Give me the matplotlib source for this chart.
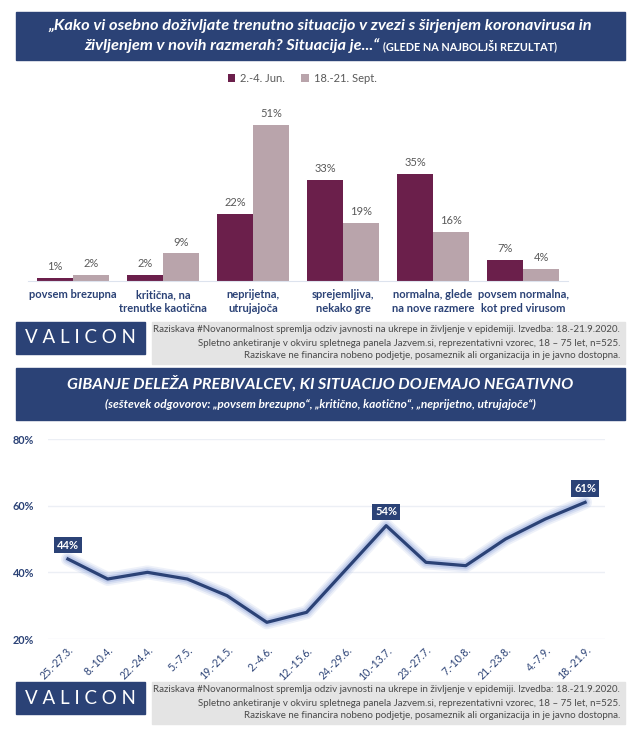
import numpy as np
import matplotlib.pyplot as plt
from matplotlib.patches import Rectangle

W, H = 641, 733
NAVY = '#2b4276'
DARK = '#6b1f4b'
LIGHT = '#b9a4ab'
GREY_TXT = '#595959'
FOOT_BG = '#e4e4e4'

plt.rcParams['font.family'] = ['Lato', 'DejaVu Sans']

# ---- data ----
categories = ['povsem brezupna', 'kritična, na\ntrenutke kaotična', 'neprijetna,\nutrujajoča',
              'sprejemljiva,\nnekako gre', 'normalna, glede\nna nove razmere',
              'povsem normalna,\nkot pred virusom']
jun = [1, 2, 22, 33, 35, 7]
sept = [2, 9, 51, 19, 16, 4]
series_names = ['2.-4. Jun.', '18.-21. Sept.']

dates = ['25.-27.3.', '8.-10.4.', '22.-24.4.', '5.-7.5.', '19.-21.5.', '2.-4.6.', '12.-15.6.',
         '24.-29.6.', '10.-13.7.', '23.-27.7.', '7.-10.8.', '21.-23.8.', '4.-7.9.', '18.-21.9.']
negative = [44, 38, 40, 38, 33, 25, 28, 41, 54, 43, 42, 50, 56, 61]
labelled = [0, 8, 13]

footer_lines = [
    'Raziskava #Novanormalnost spremlja odziv javnosti na ukrepe in življenje v epidemiji. Izvedba: 18.-21.9.2020.',
    'Spletno anketiranje v okviru spletnega panela Jazvem.si, reprezentativni vzorec, 18 – 75 let, n=525.',
    'Raziskave ne financira nobeno podjetje, posameznik ali organizacija in je javno dostopna.',
]

fig = plt.figure(figsize=(W / 100, H / 100), dpi=100)


def px_axes(x0, y0, x1, y1):
    # axes from pixel box (top-left origin)
    return fig.add_axes([x0 / W, 1 - y1 / H, (x1 - x0) / W, (y1 - y0) / H])


def fx(x):
    return x / W


def fy(y):
    return 1 - y / H


def box(x0, y0, x1, y1, color):
    fig.patches.append(Rectangle((fx(x0), fy(y1)), (x1 - x0) / W, (y1 - y0) / H,
                                 transform=fig.transFigure, color=color, zorder=0))


def footer(y0):
    box(16, y0, 145, y0 + 32, NAVY)
    fig.text(fx(80), fy(y0 + 16), 'V A L I C O N', color='white', fontsize=13.5,
             ha='center', va='center')
    box(152, y0, 625, y0 + 42, FOOT_BG)
    for i, line in enumerate(footer_lines):
        fig.text(fx(620), fy(y0 + 8 + i * 13), line, ha='right', va='center',
                 fontsize=7.0, color='#4a4a4a')


# ---- title 1 ----
box(16, 12, 625, 60, NAVY)
fig.text(0.5, fy(26), '„Kako vi osebno doživljate trenutno situacijo v zvezi s širjenjem koronavirusa in',
         ha='center', va='center', color='white', fontsize=11.8, fontweight='bold', style='italic')
t1 = fig.text(0, fy(46), 'življenjem v novih razmerah? Situacija je...“ ',
              ha='left', va='center', color='white', fontsize=11.8, fontweight='bold', style='italic')
t2 = fig.text(0, fy(46), '(GLEDE NA NAJBOLJŠI REZULTAT)',
              ha='left', va='center', color='white', fontsize=7.8, fontweight='bold')
fig.canvas.draw()
r = fig.canvas.get_renderer()
w1 = t1.get_window_extent(r).width
w2 = t2.get_window_extent(r).width
start = (W - w1 - w2) / 2
t1.set_x(start / W)
t2.set_x((start + w1) / W)

# ---- bar chart ----
ax = px_axes(28, 114, 568, 281)
x = np.arange(len(categories))
bw = 0.4
b1 = ax.bar(x - bw / 2, jun, bw, color=DARK, label=series_names[0])
b2 = ax.bar(x + bw / 2, sept, bw, color=LIGHT, label=series_names[1])
for bars, vals in ((b1, jun), (b2, sept)):
    for rect, v in zip(bars, vals):
        ax.annotate(f'{v}%', (rect.get_x() + rect.get_width() / 2, v), xytext=(0, 4),
                    textcoords='offset points', ha='center', va='bottom',
                    fontsize=8, color=GREY_TXT)
ax.set_xlim(-0.5, 5.5)
ax.set_ylim(0, 54.5)
ax.set_xticks(x)
ax.set_xticklabels(categories, fontsize=8.0, fontweight='bold', color=NAVY, linespacing=1.25)
ax.tick_params(axis='x', length=0, pad=6)
ax.set_yticks([])
for s in ('top', 'right', 'left'):
    ax.spines[s].set_visible(False)
ax.spines['bottom'].set_color('#dde3ee')
ax.patch.set_alpha(0)
ax.legend(loc='center', bbox_to_anchor=(fx(302), fy(78)), bbox_transform=fig.transFigure,
          ncol=2, frameon=False, fontsize=8, labelcolor=GREY_TXT, handlelength=0.7,
          handleheight=0.7, handletextpad=0.4, columnspacing=1.5)

footer(322)

# ---- title 2 ----
box(16, 368, 625, 420, NAVY)
fig.text(0.5, fy(384), 'GIBANJE DELEŽA PREBIVALCEV, KI SITUACIJO DOJEMAJO NEGATIVNO',
         ha='center', va='center', color='white', fontsize=11.6, fontweight='bold', style='italic')
fig.text(0.5, fy(404), '(seštevek odgovorov: „povsem brezupno“, „kritično, kaotično“, „neprijetno, utrujajoče“)',
         ha='center', va='center', color='white', fontsize=8.6, fontweight='bold', style='italic')

# ---- line chart ----
ax2 = px_axes(48, 439, 605, 639)
xi = np.arange(len(dates))
for lw, a in ((10, 0.15), (7.5, 0.22), (5, 0.35)):
    ax2.plot(xi, negative, color='#8fa6dc', lw=lw, alpha=a, solid_capstyle='round',
             solid_joinstyle='round')
ax2.plot(xi, negative, color=NAVY, lw=2.3, solid_joinstyle='round')
for i in labelled:
    ax2.annotate(f'{negative[i]}%', (xi[i], negative[i]), xytext=(0, 6),
                 textcoords='offset points', ha='center', va='bottom', fontsize=8,
                 fontweight='bold', color='white',
                 bbox=dict(boxstyle='square,pad=0.25', fc=NAVY, ec='none'))
ax2.set_xlim(-0.5, 13.5)
ax2.set_ylim(20, 80)
ax2.set_yticks([20, 40, 60, 80])
ax2.set_yticklabels(['20%', '40%', '60%', '80%'])
ax2.tick_params(axis='y', length=0, pad=10, labelsize=7.8, labelcolor=NAVY)
ax2.grid(axis='y', color='#eceff5', lw=1)
ax2.set_xticks(xi)
ax2.set_xticklabels(dates, rotation=45, ha='right', rotation_mode='anchor', fontsize=7.6,
                    color=NAVY)
ax2.tick_params(axis='x', length=0, pad=4)
for s in ax2.spines.values():
    s.set_visible(False)
for lab in ax2.get_yticklabels():
    lab.set_fontweight('bold')

footer(682)

fig.savefig('out.png', dpi=100)
